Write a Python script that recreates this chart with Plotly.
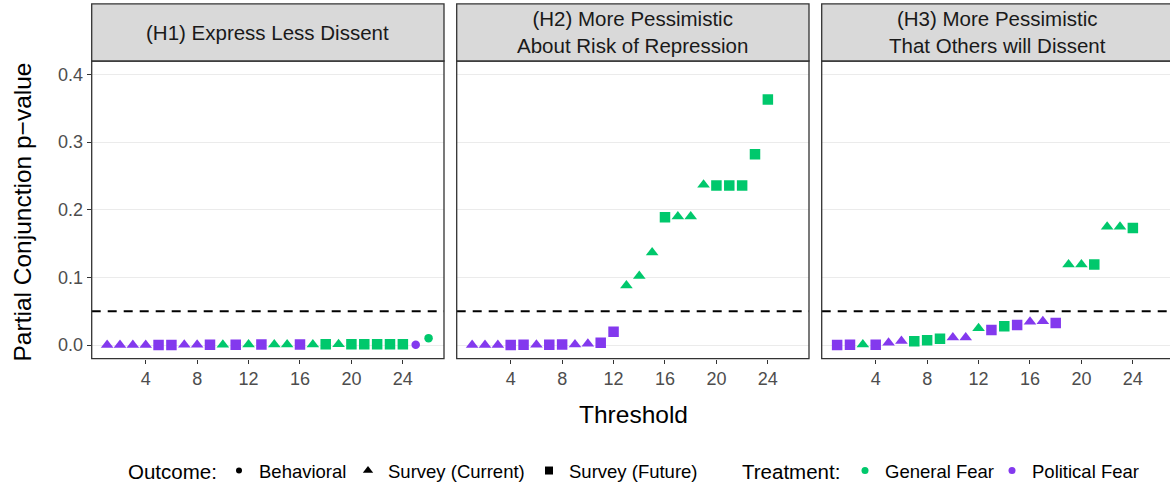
import plotly.graph_objects as go

# ---------------- data ----------------
panel_titles = ["(H1) Express Less Dissent",
                "(H2) More Pessimistic<br>About Risk of Repression",
                "(H3) More Pessimistic<br>That Others will Dissent"]

threshold_h1 = [1, 2, 3, 4, 5, 6, 7, 8, 9, 10, 11, 12, 13, 14, 15, 16, 17, 18, 19, 20, 21, 22, 23, 24, 25, 26]
outcome_h1 = ["SC", "SC", "SC", "SC", "SF", "SF", "SC", "SC", "SF", "SC", "SF", "SC", "SF",
              "SC", "SC", "SF", "SC", "SF", "SC", "SF", "SF", "SF", "SF", "SF", "B", "B"]
treat_h1 = ["P", "P", "P", "P", "P", "P", "P", "P", "P", "G", "P", "G", "P",
            "G", "G", "P", "G", "G", "G", "G", "G", "G", "G", "G", "P", "G"]
pval_h1 = [0.0001, 0.0001, 0.0001, 0.0002, 0.0002, 0.0002, 0.0003, 0.0003, 0.0004, 0.0005, 0.0005, 0.0006, 0.0006,
           0.0007, 0.0008, 0.0008, 0.0009, 0.001, 0.001, 0.001, 0.001, 0.001, 0.001, 0.001, 0.0003, 0.0102]

threshold_h2 = [1, 2, 3, 4, 5, 6, 7, 8, 9, 10, 11, 12, 13, 14, 15, 16, 17, 18, 19, 20, 21, 22, 23, 24]
outcome_h2 = ["SC", "SC", "SC", "SF", "SF", "SC", "SF", "SF", "SC", "SC", "SF", "SF",
              "SC", "SC", "SC", "SF", "SC", "SC", "SC", "SF", "SF", "SF", "SF", "SF"]
treat_h2 = ["P", "P", "P", "P", "P", "P", "P", "P", "P", "P", "P", "P",
            "G", "G", "G", "G", "G", "G", "G", "G", "G", "G", "G", "G"]
pval_h2 = [0.0001, 0.0001, 0.0002, 0.0002, 0.0003, 0.0004, 0.0005, 0.0006, 0.0008, 0.0018, 0.0035, 0.0195,
           0.088, 0.102, 0.137, 0.189, 0.190, 0.190, 0.237, 0.236, 0.236, 0.236, 0.282, 0.363]

threshold_h3 = [1, 2, 3, 4, 5, 6, 7, 8, 9, 10, 11, 12, 13, 14, 15, 16, 17, 18, 19, 20, 21, 22, 23, 24]
outcome_h3 = ["SF", "SF", "SC", "SF", "SC", "SC", "SF", "SF", "SF", "SC", "SC", "SC",
              "SF", "SF", "SF", "SC", "SC", "SF", "SC", "SC", "SF", "SC", "SC", "SF"]
treat_h3 = ["P", "P", "G", "P", "P", "P", "G", "G", "G", "P", "P", "G",
            "P", "G", "P", "P", "P", "P", "G", "G", "G", "G", "G", "G"]
pval_h3 = [0.0002, 0.0003, 0.0008, 0.0004, 0.0035, 0.006, 0.0054, 0.0069, 0.0093, 0.011, 0.011, 0.0248,
           0.0224, 0.0277, 0.0297, 0.0346, 0.035, 0.0327, 0.119, 0.119, 0.119, 0.175, 0.175, 0.173]

alpha_line = 0.05
x_ticks = [4, 8, 12, 16, 20, 24]
y_ticks = [0.0, 0.1, 0.2, 0.3, 0.4]
y_tick_labels = ["0.0", "0.1", "0.2", "0.3", "0.4"]

outcome_names = {"B": "Behavioral", "SC": "Survey (Current)", "SF": "Survey (Future)"}
treat_names = {"G": "General Fear", "P": "Political Fear"}

# ---------------- styles ----------------
W, H = 1170, 490
FONT = "Liberation Sans, Arial, Helvetica, sans-serif"
colors = {"G": "#00C86C", "P": "#8339EE"}
symbols = {"B": "circle", "SC": "triangle-up", "SF": "square"}
sizes = {"B": 8.5, "SC": 11, "SF": 10.5}

panels_px = [(91.7, 444.0), (456.7, 809.0), (821.7, 1174.0)]
plot_top_px, plot_bot_px = 62.0, 364.5
strip_top_px = 4.0
x_range_full = [-0.2, 27.2]

# legend entry placement (left x of each single-entry legend, px)
legend_slots = {"B": 219, "SC": 348, "SF": 529, "G": 845, "P": 992}
legend_y_px = 479


def px_x(p):
    return p / W


def px_y(p):
    return (H - p) / H


fig = go.Figure()

panels = [(threshold_h1, pval_h1, outcome_h1, treat_h1),
          (threshold_h2, pval_h2, outcome_h2, treat_h2),
          (threshold_h3, pval_h3, outcome_h3, treat_h3)]

for i, (xs, ys, outs, trs) in enumerate(panels):
    ax = "" if i == 0 else str(i + 1)
    for t in ["G", "P"]:
        for o in ["B", "SC", "SF"]:
            sx = [x for x, oo, tt in zip(xs, outs, trs) if oo == o and tt == t]
            sy = [y for y, oo, tt in zip(ys, outs, trs) if oo == o and tt == t]
            if not sx:
                continue
            fig.add_trace(go.Scatter(
                x=sx, y=sy, mode="markers", xaxis="x" + ax, yaxis="y" + ax,
                marker=dict(symbol=symbols[o], color=colors[t], size=sizes[o], line=dict(width=0)),
                showlegend=False, hoverinfo="x+y"))

layout = dict(
    width=W, height=H,
    margin=dict(l=0, r=0, t=0, b=0),
    paper_bgcolor="white", plot_bgcolor="white",
    font=dict(family=FONT, color="#000000"),
)

legend_entries = [("B", outcome_names["B"], "circle", "black", 6),
                  ("SC", outcome_names["SC"], "triangle-up", "black", 9),
                  ("SF", outcome_names["SF"], "square", "black", 8),
                  ("G", treat_names["G"], "circle", colors["G"], 7),
                  ("P", treat_names["P"], "circle", colors["P"], 7)]
for k, (key, name, sym, col, sz) in enumerate(legend_entries):
    lname = "legend" if k == 0 else "legend%d" % (k + 1)
    fig.add_trace(go.Scatter(x=[None], y=[None], mode="markers", name=name,
                             marker=dict(symbol=sym, color=col, size=sz),
                             legend=lname, showlegend=True))
    layout[lname] = dict(orientation="h", x=px_x(legend_slots[key]), y=px_y(legend_y_px),
                         xanchor="left", yanchor="middle",
                         font=dict(size=18.5, color="black", family=FONT),
                         bgcolor="rgba(0,0,0,0)", itemwidth=30)

shapes = []
annotations = []
for i, (l, r) in enumerate(panels_px):
    ax = "" if i == 0 else str(i + 1)
    r_clip = min(r, W)
    xr = list(x_range_full)
    if r > W:
        scale = (x_range_full[1] - x_range_full[0]) / (r - l)
        xr = [x_range_full[0], x_range_full[0] + (r_clip - l) * scale]
    layout["xaxis" + ax] = dict(
        domain=[px_x(l), px_x(r_clip)], range=xr, anchor="y" + ax,
        tickvals=x_ticks, ticktext=[str(v) for v in x_ticks],
        ticks="outside", ticklen=4, tickwidth=1.1, tickcolor="#333333",
        tickfont=dict(size=18, color="#4D4D4D", family=FONT),
        showgrid=False, zeroline=False, showline=False, automargin=False)
    layout["yaxis" + ax] = dict(
        domain=[px_y(plot_bot_px), px_y(plot_top_px)], range=[-0.02, 0.42], anchor="x" + ax,
        tickvals=y_ticks, ticktext=y_tick_labels,
        showticklabels=(i == 0), ticks="outside" if i == 0 else "",
        ticklen=4, tickwidth=1.1, tickcolor="#333333",
        tickfont=dict(size=18, color="#4D4D4D", family=FONT),
        showgrid=True, gridcolor="#EBEBEB", gridwidth=1.2,
        zeroline=False, showline=False, automargin=False)
    shapes.append(dict(type="line", xref="x" + ax + " domain", yref="y" + ax,
                       x0=0, x1=1, y0=alpha_line, y1=alpha_line,
                       line=dict(color="black", width=2, dash="9px,7px"), layer="below"))
    shapes.append(dict(type="rect", xref="paper", yref="paper",
                       x0=px_x(l), x1=px_x(r), y0=px_y(plot_bot_px), y1=px_y(plot_top_px),
                       line=dict(color="#333333", width=1.3), fillcolor="rgba(0,0,0,0)", layer="above"))
    shapes.append(dict(type="rect", xref="paper", yref="paper",
                       x0=px_x(l), x1=px_x(r), y0=px_y(plot_top_px), y1=px_y(strip_top_px),
                       line=dict(color="#333333", width=1.3), fillcolor="#D9D9D9", layer="above"))
    annotations.append(dict(text=panel_titles[i], xref="paper", yref="paper",
                            x=px_x((l + r) / 2), y=px_y((plot_top_px + strip_top_px) / 2),
                            xanchor="center", yanchor="middle", showarrow=False,
                            font=dict(size=20.5, color="#1A1A1A", family=FONT)))

annotations.append(dict(text="Threshold", xref="paper", yref="paper", x=px_x(633), y=px_y(421),
                        xanchor="center", yanchor="middle", showarrow=False,
                        font=dict(size=24.5, color="black", family=FONT)))
annotations.append(dict(text="Partial Conjunction p\u2212value", xref="paper", yref="paper",
                        x=px_x(22), y=px_y(216), textangle=-90,
                        xanchor="center", yanchor="middle", showarrow=False,
                        font=dict(size=24.5, color="black", family=FONT)))
annotations.append(dict(text="Outcome:", xref="paper", yref="paper", x=px_x(126), y=px_y(legend_y_px),
                        xanchor="left", yanchor="middle", showarrow=False,
                        font=dict(size=20.5, color="black", family=FONT)))
annotations.append(dict(text="Treatment:", xref="paper", yref="paper", x=px_x(740), y=px_y(legend_y_px),
                        xanchor="left", yanchor="middle", showarrow=False,
                        font=dict(size=20.5, color="black", family=FONT)))

layout["shapes"] = shapes
layout["annotations"] = annotations

fig.update_layout(**layout)
fig.write_html(
    "out.html",
    config={"displayModeBar": False},
    post_script=(
        "var h=document.documentElement, b=document.body;"
        "h.style.margin='0'; h.style.padding='0'; h.style.overflow='hidden';"
        "b.style.margin='0'; b.style.padding='0'; b.style.overflow='hidden';"
    ),
)
